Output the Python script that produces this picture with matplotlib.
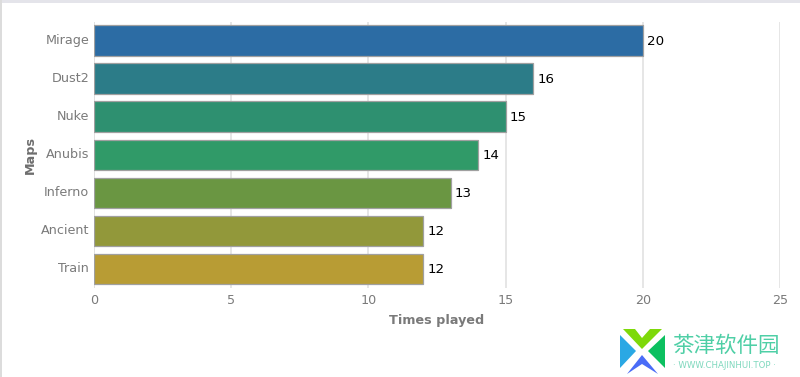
import matplotlib
matplotlib.use('Agg')
import matplotlib.pyplot as plt
from matplotlib.patches import Polygon, Rectangle
from matplotlib.transforms import ScaledTranslation

plt.rcParams['font.family'] = ['DejaVu Sans', 'Noto Sans CJK SC']

maps = ['Mirage', 'Dust2', 'Nuke', 'Anubis', 'Inferno', 'Ancient', 'Train']
times_played = [20, 16, 15, 14, 13, 12, 12]
bar_colors = ['#2c6ca4', '#2c7c88', '#2e9070', '#309a68', '#6a9642', '#92983a', '#b89c34']
x_ticks = [0, 5, 10, 15, 20, 25]

W, H = 800, 377
fig = plt.figure(figsize=(W / 100, H / 100), dpi=100)

# область графика в пикселях картинки
ax = fig.add_axes([94 / W, 1 - 288 / H, 686 / W, 266.5 / H])
y_pos = list(range(len(maps)))
ax.barh(y_pos, times_played, height=0.8, color=bar_colors, edgecolor='#a0a0a0',
        linewidth=0.9, zorder=3)
for y, v in zip(y_pos, times_played):
    ax.annotate(str(v), (v, y), xytext=(3, -0.5), textcoords='offset points',
                va='center', ha='left', fontsize=9.6, color='#000000')

ax.set_xlim(0, 25)
ax.set_ylim(len(maps) - 0.5, -0.5)
ax.set_xticks(x_ticks)
ax.set_yticks(y_pos, maps, va='center_baseline')
ax.grid(axis='x', color='#e2e2e2', linewidth=1.2, zorder=0)
ax.tick_params(length=0, labelsize=9.2, labelcolor='#7a7a7a', pad=3.5)
ax.tick_params(axis='x', pad=4.5)
for s in ax.spines.values():
    s.set_visible(False)
ax.axvline(0, color='#dcdcdc', linewidth=1.2, zorder=1)

# подписи слева в оригинале чуть выше центра полосы
shift = ScaledTranslation(0, 2 / 100, fig.dpi_scale_trans)
for label in ax.get_yticklabels():
    label.set_transform(label.get_transform() + shift)

ax.set_xlabel('Times played', fontsize=9.2, fontweight='bold', color='#7a7a7a', labelpad=5)
ax.set_ylabel('Maps', fontsize=9.2, fontweight='bold', color='#6e6e6e', labelpad=3)

# рамка скриншота только сверху и слева
fig.add_artist(Rectangle((0, 1 - 3 / H), 1, 3 / H, transform=fig.transFigure, color='#e4e4ea', linewidth=0))
fig.add_artist(Rectangle((0, 0), 2 / W, 1, transform=fig.transFigure, color='#dcdcdc', linewidth=0))


def logo(points, color):
    fig.add_artist(Polygon([(x / W, 1 - y / H) for x, y in points], closed=True,
                           transform=fig.transFigure, color=color, linewidth=0))


# водяной знак
logo([(623, 329), (635, 329), (642, 338), (650, 329), (662, 329), (642, 349)], '#7ed90a')
logo([(620, 335), (636, 351), (620, 368)], '#2aa8e4')
logo([(665, 335), (665, 368), (648, 351)], '#0cc060')
logo([(627, 374), (642, 355), (658, 374), (642, 364)], '#4a6cf7')
fig.text(672 / W, 1 - 346 / H, '茶津软件园', fontsize=15.5, color='#4fcfa6', va='center', ha='left',
         family=['Noto Sans CJK SC', 'DejaVu Sans'])
fig.text(673 / W, 1 - 365 / H, '· WWW.CHAJINHUI.TOP ·', fontsize=6.2, color='#7fd8bd', va='center', ha='left')

fig.savefig('out.png', dpi=100)
